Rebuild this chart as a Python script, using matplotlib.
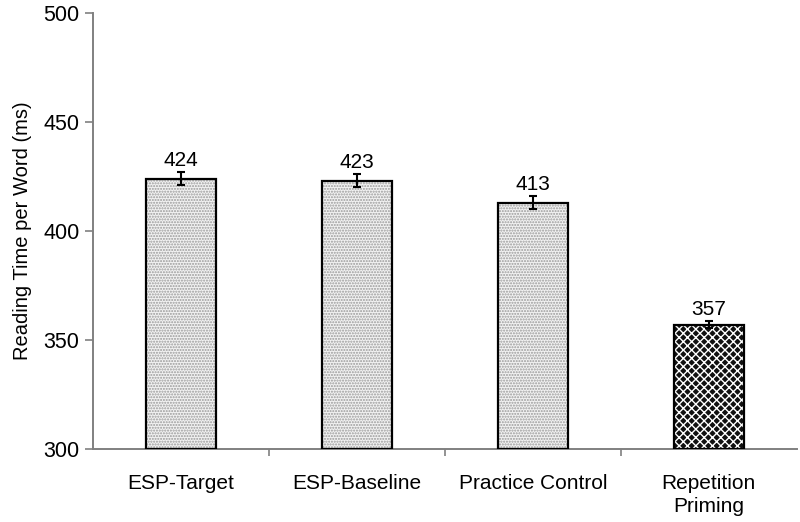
import matplotlib
matplotlib.use("Agg")
import matplotlib.pyplot as plt

plt.rcParams['font.family'] = ['Liberation Sans', 'DejaVu Sans']

categories = ["ESP-Target", "ESP-Baseline", "Practice Control", "Repetition\nPriming"]
values = [424, 423, 413, 357]
errors = [3, 3, 3, 1.5]
face_colors = ["#f2f2f2", "#f2f2f2", "#f2f2f2", "#111111"]
hatch_colors = ["#9a9a9a", "#9a9a9a", "#9a9a9a", "#ffffff"]
hatches = ["......", "......", "......", "xxxx"]

fig = plt.figure(figsize=(8, 5.22), dpi=100)
ax = fig.add_axes([0.116, 0.14, 0.88, 0.835])

x = list(range(len(categories)))
for xi, v, fc, hc, h in zip(x, values, face_colors, hatch_colors, hatches):
    ax.bar(xi, v - 300, bottom=300, width=0.4, color=fc, edgecolor=hc, hatch=h, linewidth=0, zorder=2)
    ax.bar(xi, v - 300, bottom=300, width=0.4, fill=False, edgecolor="black", linewidth=1.6, zorder=3)

ax.errorbar(x, values, yerr=errors, fmt="none", ecolor="black", elinewidth=1.5, capsize=3, capthick=1.5, zorder=4)

for xi, v, e in zip(x, values, errors):
    ax.text(xi, v + e + 1.0, str(v), ha="center", va="bottom", fontsize=15)

ax.set_ylim(300, 500)
ax.set_xlim(-0.5, 3.5)
ax.set_yticks([300, 350, 400, 450, 500])
ax.set_xticks(x)
ax.set_xticks([0.5, 1.5, 2.5], minor=True)
ax.set_xticklabels(categories, fontsize=15, linespacing=1.3)
ax.tick_params(axis='y', labelsize=15.5, length=6, color="#808080", width=1.2)
ax.tick_params(axis='x', which='major', length=0, pad=18)
ax.tick_params(axis='x', which='minor', length=5, color="#808080", width=1.2)
ax.set_ylabel("Reading Time per Word (ms)", fontsize=14.5, labelpad=8)

for s in ["top", "right"]:
    ax.spines[s].set_visible(False)
for s in ["left", "bottom"]:
    ax.spines[s].set_color("#808080")
    ax.spines[s].set_linewidth(1.4)

fig.savefig("out.png", dpi=100)
